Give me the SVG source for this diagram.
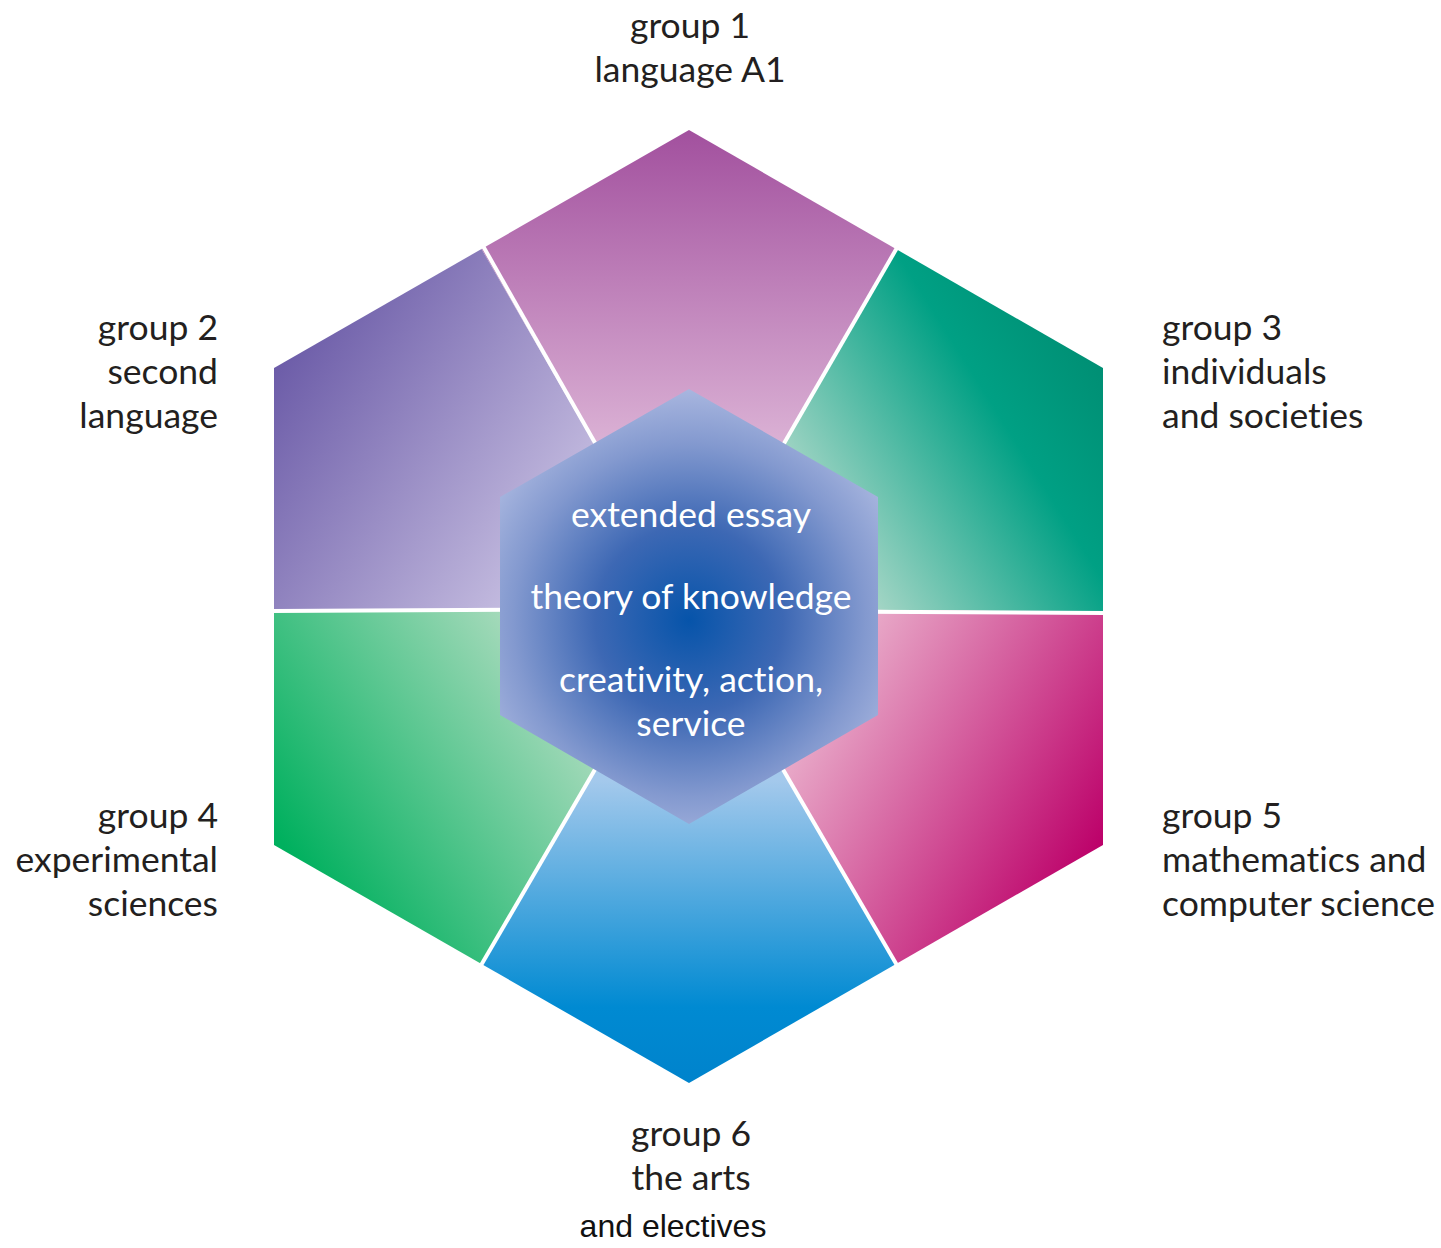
<svg xmlns="http://www.w3.org/2000/svg" width="1441" height="1248" viewBox="0 0 1441 1248">
<style>
.lbl{font-family:"Lato","Open Sans","Liberation Sans",sans-serif;font-size:35.5px;fill:#231f20;font-variant-ligatures:none}
.in{font-family:"Lato","Open Sans","Liberation Sans",sans-serif;font-size:35.5px;fill:#ffffff;text-anchor:middle;font-variant-ligatures:none}
.sep{stroke:#ffffff;stroke-width:4;fill:none}
</style>
<defs>
<linearGradient id="g1" gradientUnits="userSpaceOnUse" x1="689" y1="440" x2="689" y2="130"><stop offset="0" stop-color="#dab0d4"/><stop offset="1" stop-color="#a2509e"/></linearGradient>
<linearGradient id="g2" gradientUnits="userSpaceOnUse" x1="560" y1="560" x2="274" y2="368"><stop offset="0" stop-color="#c8c0e2"/><stop offset="1" stop-color="#6c5ca8"/></linearGradient>
<linearGradient id="g3" gradientUnits="userSpaceOnUse" x1="830" y1="540" x2="1103" y2="368"><stop offset="0" stop-color="#a6d6c6"/><stop offset="0.65" stop-color="#00a084"/><stop offset="1" stop-color="#008f74"/></linearGradient>
<linearGradient id="g4" gradientUnits="userSpaceOnUse" x1="560" y1="640" x2="274" y2="830"><stop offset="0" stop-color="#b6dec4"/><stop offset="1" stop-color="#00b05e"/></linearGradient>
<linearGradient id="g5" gradientUnits="userSpaceOnUse" x1="820" y1="680" x2="1103" y2="845"><stop offset="0" stop-color="#eab0cc"/><stop offset="1" stop-color="#bc0069"/></linearGradient>
<linearGradient id="g6" gradientUnits="userSpaceOnUse" x1="689" y1="780" x2="689" y2="1083"><stop offset="0" stop-color="#a4c9ec"/><stop offset="0.75" stop-color="#008ad2"/><stop offset="1" stop-color="#0083cc"/></linearGradient>
<radialGradient id="gc" gradientUnits="userSpaceOnUse" cx="689" cy="620" r="235"><stop offset="0" stop-color="#0654aa"/><stop offset="0.4" stop-color="#3d68b4"/><stop offset="0.75" stop-color="#8399cf"/><stop offset="1" stop-color="#abb8e0"/></radialGradient>
</defs>
<g id="group1"><polygon points="689,608 481.5,249 689,130 896,249" fill="url(#g1)"/><text class="lbl" text-anchor="middle"><tspan x="690" y="38">group 1</tspan><tspan x="690" y="82">language A1</tspan></text></g>
<g id="group2"><polygon points="689,608 274,610 274,368 481.5,249" fill="url(#g2)"/><text class="lbl" text-anchor="end"><tspan x="218" y="340">group 2</tspan><tspan x="218" y="384">second</tspan><tspan x="218" y="428">language</tspan></text></g>
<g id="group3"><polygon points="689,608 896,249 1103,368 1103,612" fill="url(#g3)"/><text class="lbl" text-anchor="start"><tspan x="1162" y="340">group 3</tspan><tspan x="1162" y="384">individuals</tspan><tspan x="1162" y="428">and societies</tspan></text></g>
<g id="group4"><polygon points="689,608 274,610 274,845 481.5,964" fill="url(#g4)"/><text class="lbl" text-anchor="end"><tspan x="218" y="828">group 4</tspan><tspan x="218" y="872">experimental</tspan><tspan x="218" y="916">sciences</tspan></text></g>
<g id="group5"><polygon points="689,608 1103,612 1103,845 896,964" fill="url(#g5)"/><text class="lbl" text-anchor="start"><tspan x="1162" y="828">group 5</tspan><tspan x="1162" y="872">mathematics and</tspan><tspan x="1162" y="916">computer science</tspan></text></g>
<g id="group6"><polygon points="689,608 896,964 689,1083 481.5,964" fill="url(#g6)"/><text class="lbl" text-anchor="middle"><tspan x="691" y="1146">group 6</tspan><tspan x="691" y="1190">the arts</tspan></text><text x="673" y="1237" text-anchor="middle" style="font-family:'Liberation Sans',Arial,sans-serif;font-size:32px;fill:#111111">and electives</text></g>
<g id="connectors">
<line class="sep" x1="689" y1="608" x2="483" y2="246"/>
<line class="sep" x1="689" y1="608" x2="898" y2="246"/>
<line class="sep" x1="689" y1="609" x2="272" y2="611"/>
<line class="sep" x1="689" y1="611" x2="1105" y2="613"/>
<line class="sep" x1="689" y1="608" x2="480" y2="967"/>
<line class="sep" x1="689" y1="608" x2="898" y2="967"/>
</g>
<g id="core"><polygon points="689,389 878,497 878,715 689,824 500,715 500,497" fill="url(#gc)"/>
<text class="in"><tspan x="691" y="527">extended essay</tspan><tspan x="691" y="609">theory of knowledge</tspan><tspan x="691" y="692">creativity, action,</tspan><tspan x="691" y="736">service</tspan></text></g>
</svg>
